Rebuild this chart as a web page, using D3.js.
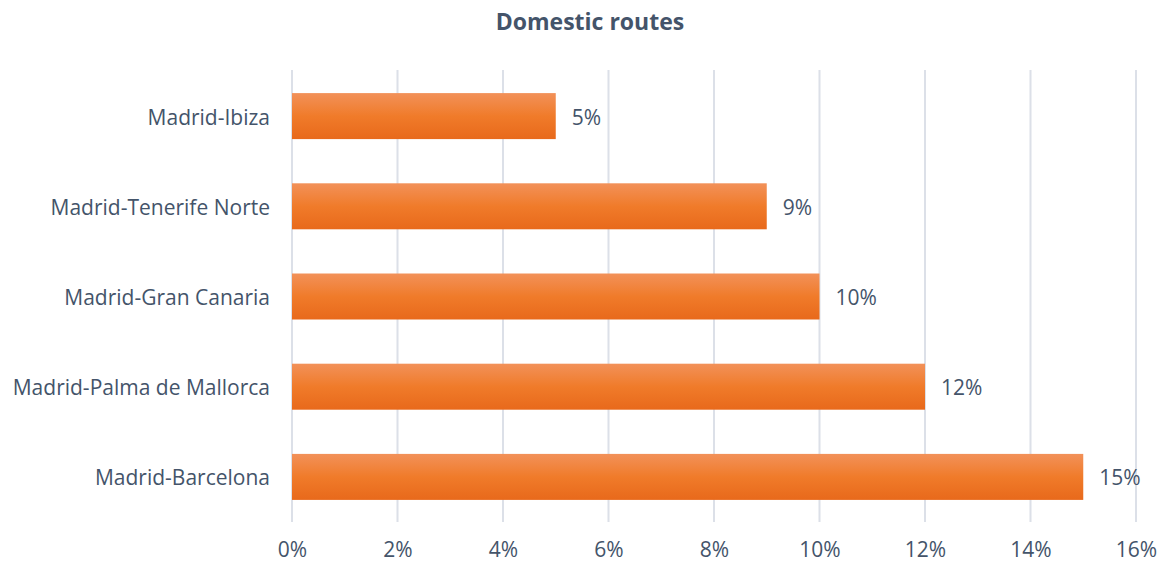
<!DOCTYPE html>
<html>
<head>
<meta charset="utf-8">
<script src="https://cdn.jsdelivr.net/npm/d3@7"></script>
<style>
  html, body { margin: 0; padding: 0; background: #fff; }
  svg { display: block; font-family: "Open Sans", sans-serif; }
</style>
</head>
<body>
<svg id="chart" width="1162" height="568"></svg>
<script>
// Share of domestic traffic by route (percent)
const routes = ["Madrid-Ibiza", "Madrid-Tenerife Norte", "Madrid-Gran Canaria", "Madrid-Palma de Mallorca", "Madrid-Barcelona"];
const shares = [5, 9, 10, 12, 15];
const tickValues = [0, 2, 4, 6, 8, 10, 12, 14, 16];
const chartTitle = "Domestic routes";

const svg = d3.select("#chart");
const W = 1162, H = 568;
const margin = { top: 71, right: 26, bottom: 46, left: 292 };
const textColor = "#44546A";
const fontFamily = "'Open Sans', sans-serif";
const labelSize = 21;

const x = d3.scaleLinear().domain([0, 16]).range([margin.left, W - margin.right]);
const y = d3.scaleBand().domain(routes).range([margin.top, H - margin.bottom]).paddingInner(0.49).paddingOuter(0.245);

// Bar fill: light-to-dark orange from top to bottom
const defs = svg.append("defs");
const grad = defs.append("linearGradient").attr("id", "barGrad").attr("x1", 0).attr("y1", 0).attr("x2", 0).attr("y2", 1);
grad.append("stop").attr("offset", "0%").attr("stop-color", "#F29159");
grad.append("stop").attr("offset", "50%").attr("stop-color", "#F07B2A");
grad.append("stop").attr("offset", "100%").attr("stop-color", "#E8691B");

// Title
svg.append("text")
  .attr("x", 590).attr("y", 30)
  .attr("text-anchor", "middle")
  .attr("font-size", 23).attr("font-weight", "bold")
  .attr("fill", textColor)
  .text(chartTitle);

// Vertical gridlines
svg.append("g")
  .selectAll("line").data(tickValues).join("line")
  .attr("x1", d => x(d)).attr("x2", d => x(d))
  .attr("y1", margin.top - 1).attr("y2", H - margin.bottom)
  .attr("stroke", "#DCE0E8").attr("stroke-width", 2);

// X axis tick labels
const xAxis = d3.axisBottom(x).tickValues(tickValues).tickFormat(d => d + "%").tickSize(0).tickPadding(0);
const gx = svg.append("g").attr("transform", `translate(0,${H - margin.bottom + 20})`).call(xAxis);
gx.select(".domain").remove();
gx.selectAll("text").attr("font-size", labelSize).attr("fill", textColor).attr("font-family", fontFamily);

// Y axis category labels
const yAxis = d3.axisLeft(y).tickSize(0).tickPadding(22);
const gy = svg.append("g").attr("transform", `translate(${margin.left},0)`).call(yAxis);
gy.select(".domain").remove();
gy.selectAll("text").attr("font-size", labelSize).attr("fill", textColor).attr("font-family", fontFamily)
  .attr("dy", "0.4em");

// Bars
svg.append("g")
  .selectAll("rect").data(routes).join("rect")
  .attr("x", x(0))
  .attr("y", d => y(d))
  .attr("width", (d, i) => x(shares[i]) - x(0))
  .attr("height", y.bandwidth())
  .attr("fill", "url(#barGrad)");

// Value labels
svg.append("g")
  .selectAll("text").data(routes).join("text")
  .attr("x", (d, i) => x(shares[i]) + 16)
  .attr("y", d => y(d) + y.bandwidth() / 2)
  .attr("dy", "0.4em")
  .attr("font-size", labelSize)
  .attr("fill", textColor)
  .text((d, i) => shares[i] + "%");
</script>
</body>
</html>
